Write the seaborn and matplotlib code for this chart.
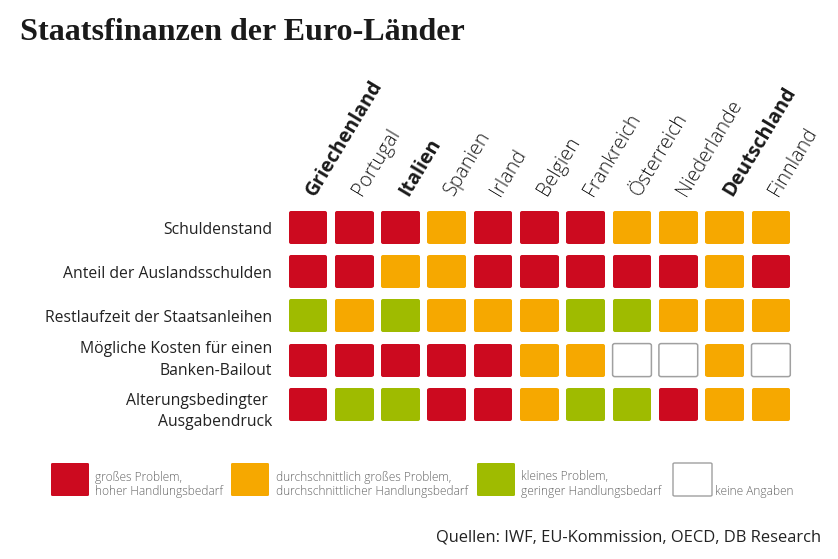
import matplotlib
matplotlib.use('Agg')
import matplotlib.pyplot as plt
import numpy as np
import seaborn as sns
from matplotlib.colors import ListedColormap
from matplotlib.patches import FancyBboxPatch
from matplotlib.path import Path
from matplotlib.transforms import ScaledTranslation

W, H = 838, 559

countries = ["Griechenland", "Portugal", "Italien", "Spanien", "Irland", "Belgien",
             "Frankreich", "Österreich", "Niederlande", "Deutschland", "Finnland"]
highlighted = ["Griechenland", "Italien", "Deutschland"]
indicators = ["Schuldenstand", "Anteil der Auslandsschulden", "Restlaufzeit der Staatsanleihen",
              "Mögliche Kosten für einen\nBanken-Bailout", "Alterungsbedingter \nAusgabendruck"]

# 0 = big problem, 1 = average, 2 = small, 3 = no data
schuldenstand = [0, 0, 0, 1, 0, 0, 0, 1, 1, 1, 1]
auslandsschulden = [0, 0, 1, 1, 0, 0, 0, 0, 0, 1, 0]
restlaufzeit = [2, 1, 2, 1, 1, 1, 2, 2, 1, 1, 1]
bailout = [0, 0, 0, 0, 0, 1, 1, 3, 3, 1, 3]
alterung = [0, 2, 2, 0, 0, 1, 2, 2, 0, 1, 1]

colors = ["#cc0a1f", "#f6a800", "#9fbb00", "#ffffff"]
legend_labels = ["großes Problem,\nhoher Handlungsbedarf",
                 "durchschnittlich großes Problem,\ndurchschnittlicher Handlungsbedarf",
                 "kleines Problem,\ngeringer Handlungsbedarf",
                 "keine Angaben"]

matrix = np.array([schuldenstand, auslandsschulden, restlaufzeit, bailout, alterung])

sns.set_theme(style="white")
plt.rcParams['font.family'] = ['Open Sans', 'DejaVu Sans']

fig = plt.figure(figsize=(W / 100, H / 100), dpi=100)
ax = fig.add_axes([284.75 / W, 1 - 426.4 / H, 509.3 / W, 221 / H])

sns.heatmap(matrix, cmap=ListedColormap(colors), vmin=-0.5, vmax=3.5, cbar=False,
            xticklabels=countries, yticklabels=indicators, ax=ax)

# trim the heatmap cells down to rounded tiles
box_w, box_h = 0.838, 0.747
tiles = []
for row in range(matrix.shape[0]):
    for col in range(matrix.shape[1]):
        x0 = col + (1 - box_w) / 2
        y0 = row + (1 - box_h) / 2
        tile = FancyBboxPatch((x0, y0), box_w, box_h, boxstyle="round,pad=0,rounding_size=0.05",
                              mutation_aspect=box_h / box_w)
        path = tile.get_path()
        tiles.append(path.transformed(tile.get_transform()))
        if matrix[row, col] == 3:
            ax.add_patch(FancyBboxPatch((x0, y0), box_w, box_h,
                                        boxstyle="round,pad=0,rounding_size=0.05",
                                        mutation_aspect=box_h / box_w,
                                        fc="white", ec="#a0a0a0", lw=1.1))
ax.collections[0].set_clip_path(Path.make_compound_path(*tiles), ax.transData)

ax.xaxis.tick_top()
ax.tick_params(length=0)
ax.tick_params(axis="x", pad=8)
ax.tick_params(axis="y", pad=9.2)
for name, label in zip(countries, ax.get_xticklabels()):
    bold = name in highlighted
    label.set(rotation=59, rotation_mode="anchor", ha="left", va="center",
              fontsize=14.1, color="#1a1a1a", weight="bold" if bold else "light")
    label.set_transform(label.get_transform()
                        + ScaledTranslation(3 / 100, 0, fig.dpi_scale_trans))

# row labels sit a little lower than the tile centres in the original
label_shift = [2.5, 2.5, 2.5, 0, 7]
for shift, label in zip(label_shift, ax.get_yticklabels()):
    label.set(rotation=0, ha="right", va="center", fontsize=11.35, color="#222222",
              linespacing=1.45)
    label.set_transform(label.get_transform()
                        + ScaledTranslation(0, -shift / 100, fig.dpi_scale_trans))

fig.text(20 / W, 1 - 40 / H, "Staatsfinanzen der Euro-Länder", family="Liberation Serif",
         weight="bold", fontsize=23.1, color="#1a1a1a")

# legend, placed by hand like in the original
legend_x = [51, 231, 477, 673]
legend_text_x = [95, 276, 521, 715]
legend_w = [38, 38, 38, 39]
for i in range(4):
    fig.add_artist(FancyBboxPatch((legend_x[i] / W, 1 - 496 / H), legend_w[i] / W, 33 / H,
                                  boxstyle="round,pad=0,rounding_size=0.002",
                                  transform=fig.transFigure,
                                  fc=colors[i], ec="#a0a0a0" if i == 3 else colors[i],
                                  lw=1 if i == 3 else 0))
    fig.text(legend_text_x[i] / W, 1 - 498 / H, legend_labels[i], fontsize=8.6, color="#666666",
             va="bottom", linespacing=1.15, weight="light")

fig.text(821 / W, 1 - 541 / H, "Quellen: IWF, EU-Kommission, OECD, DB Research",
         ha="right", fontsize=11.9, color="#222222")

fig.savefig("out.png", dpi=100)
